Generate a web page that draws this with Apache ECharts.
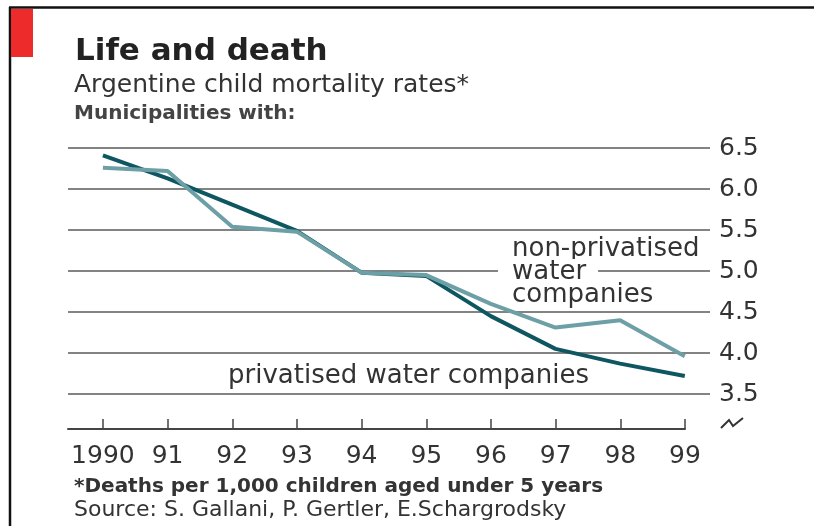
<!DOCTYPE html>
<html>
<head>
<meta charset="utf-8">
<title>Life and death</title>
<script src="https://cdn.jsdelivr.net/npm/echarts@6/dist/echarts.min.js"></script>
<style>
  html, body { margin: 0; padding: 0; background: #fff; }
  #chart { width: 814px; height: 526px; }
</style>
</head>
<body>
<div id="chart"></div>
<script>
// data
var years = [1990, 1991, 1992, 1993, 1994, 1995, 1996, 1997, 1998, 1999];
var privatised = [6.41, 6.13, 5.81, 5.49, 4.98, 4.94, 4.45, 4.05, 3.87, 3.72];
var nonPrivatised = [6.26, 6.22, 5.54, 5.48, 4.98, 4.95, 4.60, 4.31, 4.40, 3.96];
var yTicks = [3.5, 4.0, 4.5, 5.0, 5.5, 6.0, 6.5];

var font = 'DejaVu Sans';

function pairs(xs, ys) {
  var out = [];
  for (var i = 0; i < xs.length; i++) {
    out.push([xs[i], ys[i]]);
  }
  return out;
}

var chart = echarts.init(document.getElementById('chart'), null, { renderer: 'canvas' });

var option = {
  backgroundColor: '#fff',
  animation: false,
  title: [
    {
      text: 'Life and death',
      left: 70, top: 31,
      textStyle: { fontFamily: font, fontSize: 31, fontWeight: 'bold', color: '#222' }
    },
    {
      text: 'Argentine child mortality rates*',
      left: 69, top: 68,
      textStyle: { fontFamily: font, fontSize: 25, fontWeight: 'normal', color: '#333' }
    },
    {
      text: 'Municipalities with:',
      left: 69, top: 99,
      textStyle: { fontFamily: font, fontSize: 20, fontWeight: 'bold', color: '#444' }
    },
    {
      text: '*Deaths per 1,000 children aged under 5 years',
      left: 69, top: 472,
      textStyle: { fontFamily: font, fontSize: 20, fontWeight: 'bold', color: '#333' }
    },
    {
      text: 'Source: S. Gallani, P. Gertler, E.Schargrodsky',
      left: 69, top: 494,
      textStyle: { fontFamily: font, fontSize: 22, fontWeight: 'normal', color: '#333' }
    }
  ],
  grid: [
    // plot area, gridlines 6.5 -> 3.5
    { left: 68, right: 104, top: 148, height: 246 },
    // broken x axis below
    { left: 68, width: 617, top: 394, height: 35 }
  ],
  xAxis: [
    {
      type: 'value', gridIndex: 0,
      min: 1989.46, max: 1999.39,
      show: false
    },
    {
      type: 'value', gridIndex: 1,
      min: 1989.46, max: 1999,
      splitLine: { show: false },
      axisLine: { show: true, lineStyle: { color: '#444', width: 2 } },
      axisTick: {
        show: true, inside: true, length: 10,
        customValues: years,
        lineStyle: { color: '#444', width: 1.5 }
      },
      axisLabel: {
        customValues: years,
        margin: 15,
        fontFamily: font, fontSize: 25, color: '#333',
        formatter: function(v) {
          return v === 1990 ? '1990' : String(v).slice(2);
        }
      }
    }
  ],
  yAxis: [
    {
      type: 'value', gridIndex: 0, position: 'right',
      min: 3.5, max: 6.5, interval: 0.5,
      axisLine: { show: false },
      axisTick: { show: false },
      axisLabel: {
        margin: 9,
        fontFamily: font, fontSize: 25, color: '#333',
        formatter: function(v) { return v.toFixed(1); }
      },
      splitLine: { show: true, lineStyle: { color: '#5a5a5a', width: 1.5 } }
    },
    {
      type: 'value', gridIndex: 1, min: 0, max: 1, show: false
    }
  ],
  series: [
    {
      name: 'privatised water companies',
      type: 'line',
      xAxisIndex: 0, yAxisIndex: 0,
      data: pairs(years, privatised),
      showSymbol: false,
      lineStyle: { color: '#0e5660', width: 4 }
    },
    {
      name: 'non-privatised water companies',
      type: 'line',
      xAxisIndex: 0, yAxisIndex: 0,
      data: pairs(years, nonPrivatised),
      showSymbol: false,
      lineStyle: { color: '#6d9fa6', width: 4 }
    }
  ],
  graphic: [
    // frame and red tag
    { type: 'line', shape: { x1: 9, y1: 7.5, x2: 814, y2: 7.5 }, style: { stroke: '#111', lineWidth: 2.5 } },
    { type: 'line', shape: { x1: 10, y1: 7, x2: 10, y2: 526 }, style: { stroke: '#111', lineWidth: 2.5 } },
    { type: 'rect', shape: { x: 11, y: 9, width: 22, height: 48 }, style: { fill: '#ee2b2b' } },
    // line labels
    {
      type: 'text', z: 10,
      style: { x: 512, y: 249, text: 'non-privatised', font: '26px "DejaVu Sans"', fill: '#333', verticalAlign: 'middle' }
    },
    {
      type: 'text', z: 10,
      style: {
        x: 498, y: 272, text: 'water', font: '26px "DejaVu Sans"', fill: '#333', verticalAlign: 'middle',
        backgroundColor: '#fff', padding: [0, 12, 0, 14]
      }
    },
    {
      type: 'text', z: 10,
      style: { x: 512, y: 295, text: 'companies', font: '26px "DejaVu Sans"', fill: '#333', verticalAlign: 'middle' }
    },
    {
      type: 'text', z: 10,
      style: { x: 228, y: 376, text: 'privatised water companies', font: '26px "DejaVu Sans"', fill: '#333', verticalAlign: 'middle' }
    },
    // axis break mark
    {
      type: 'polyline',
      shape: { points: [[721, 428], [729, 420], [733, 426], [743, 418]] },
      style: { stroke: '#333', lineWidth: 2, fill: null }
    }
  ]
};

chart.setOption(option);
</script>
</body>
</html>
